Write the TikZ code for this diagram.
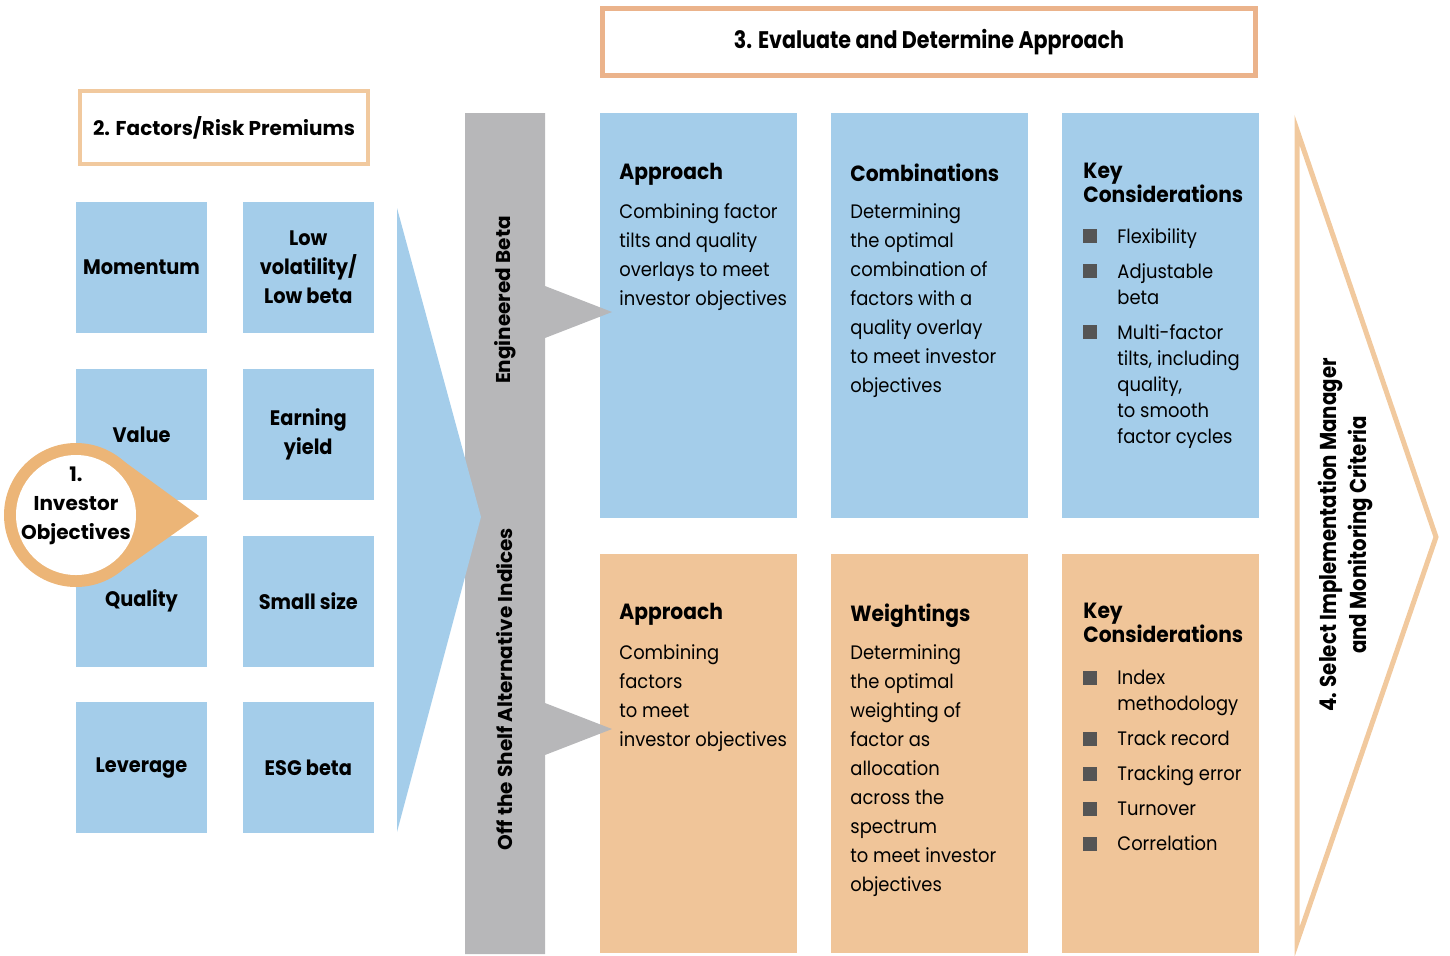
\documentclass[tikz,border=0pt]{standalone}
\usepackage{fontspec}
\setmainfont{Poppins}
\newfontfamily\panelfont[FakeStretch=0.92]{Poppins}
\newfontfamily\condfont[FakeStretch=0.86]{Poppins}
\usetikzlibrary{positioning}
\definecolor{tileblue}{HTML}{A4CDEA}
\definecolor{panelorange}{HTML}{F0C599}
\definecolor{peachline}{HTML}{EBB38B}
\definecolor{peachlight}{HTML}{F1C99E}
\definecolor{ringorange}{HTML}{ECB577}
\definecolor{bargray}{HTML}{B7B7B9}
\definecolor{bulletgray}{HTML}{555555}
\newcommand\keybullet{\makebox[17pt][l]{\textcolor{bulletgray}{\rule[-0.1pt]{7pt}{7pt}}}}
\newcommand\keyindent{\hspace*{17pt}}
\begin{document}
\begin{tikzpicture}[x=0.5pt,y=-0.5pt,
		tile/.style={fill=tileblue, minimum width=65.5pt, minimum height=65.5pt, inner sep=0pt,
				align=center, font=\panelfont\bfseries\fontsize{10.5}{14.5}\selectfont},
		framebox/.style={draw, line width=2.5pt, fill=white, inner sep=0pt},
		panel/.style={minimum width=98.5pt, inner sep=0pt, anchor=north west},
		head/.style={anchor=north west, inner sep=0pt, align=left, font=\panelfont\bfseries\fontsize{11}{12}\selectfont},
		body/.style={anchor=north west, inner sep=0pt, align=left, font=\panelfont\fontsize{9.75}{14.5}\selectfont},
		keys/.style={body, font=\panelfont\fontsize{9.75}{13}\selectfont},
		sidetext/.style={rotate=90, inner sep=0pt, align=center, font=\bfseries\fontsize{10}{15}\selectfont}]
	\useasboundingbox (0,0) rectangle (1450,955);

	% 2. factors
	\node[framebox, draw=peachlight, line width=2pt, minimum width=144pt, minimum height=36.5pt,
		font=\bfseries\fontsize{10}{12}\selectfont] (factors) at (224,127.5) {2. Factors/Risk Premiums};
	\node[tile] (momentum) at (141.5,267.5) {Momentum};
	\node[tile, right=17.5pt of momentum] (lowvol) {Low\\volatility/\\Low beta};
	\node[tile, below=17.5pt of momentum] (value) {Value};
	\node[tile, right=17.5pt of value] (earning) {Earning\\yield};
	\node[tile, below=17.5pt of value] (quality) {Quality};
	\node[tile, right=17.5pt of quality] (small) {Small size};
	\node[tile, below=17.5pt of quality] (leverage) {Leverage};
	\node[tile, right=17.5pt of leverage] (esg) {ESG beta};

	% 1. investor objectives
	\fill[ringorange] (76,515) circle (36pt);
	\fill[ringorange] (199,516) -- (118,457) -- (76,515) -- (118,573) -- cycle;
	\node[circle, fill=white, minimum size=60pt, inner sep=0pt] (objectivesring) at (76,515) {};
	\node[align=center, inner sep=0pt, font=\bfseries\fontsize{10}{14.5}\selectfont] (objectives)
		at (76,506) {1.\\Investor\\Objectives};

	% 3. evaluate
	\node[framebox, draw=peachline, minimum width=326.5pt, minimum height=33.5pt,
		font=\condfont\bfseries\fontsize{12}{13}\selectfont] (evaluate) at (929,42) {3. Evaluate and Determine Approach};
	\node[panel, fill=tileblue, minimum height=202.5pt] (approachtop) at (600,113) {};
	\node[panel, fill=tileblue, minimum height=202.5pt, right=16.5pt of approachtop] (combinations) {};
	\node[panel, fill=tileblue, minimum height=202.5pt, right=16.5pt of combinations] (keytop) {};
	\node[panel, fill=panelorange, minimum height=199.5pt] (approachbot) at (600,554) {};
	\node[panel, fill=panelorange, minimum height=199.5pt, right=16.5pt of approachbot] (weightings) {};
	\node[panel, fill=panelorange, minimum height=199.5pt, right=16.5pt of weightings] (keybot) {};

	\node[head] (approachtophead) at (619,163) {Approach};
	\node[body] (approachtoptext) at (619,203) {Combining factor\\tilts and quality\\overlays to meet\\investor objectives};
	\node[head] (combinationshead) at (850,163) {Combinations};
	\node[body] (combinationstext) at (850,203) {Determining\\the optimal\\combination of\\factors with a\\quality overlay\\to meet investor\\objectives};
	\node[head] (keytophead) at (1083,163) {Key\\Considerations};
	\node[keys] (keytoptext) at (1083,228) {\keybullet Flexibility\\[4.5pt]
		\keybullet Adjustable\\\keyindent beta\\[4.5pt]
		\keybullet Multi-factor\\\keyindent tilts, including\\\keyindent quality,\\\keyindent to smooth\\\keyindent factor cycles};

	\node[head] (approachbothead) at (619,603) {Approach};
	\node[body] (approachbottext) at (619,644) {Combining\\factors\\to meet\\investor objectives};
	\node[head] (weightingshead) at (850,603) {Weightings};
	\node[body] (weightingstext) at (850,644) {Determining\\the optimal\\weighting of\\factor as\\allocation\\across the\\spectrum\\to meet investor\\objectives};
	\node[head] (keybothead) at (1083,603) {Key\\Considerations};
	\node[keys] (keybottext) at (1083,670) {\keybullet Index\\\keyindent methodology\\[4.5pt]
		\keybullet Track record\\[4.5pt]
		\keybullet Tracking error\\[4.5pt]
		\keybullet Turnover\\[4.5pt]
		\keybullet Correlation};

	% gray bar with two notches
	\fill[bargray] (465,113) -- (545,113) -- (545,286) -- (612,312) -- (545,338) -- (545,703)
		-- (612,729) -- (545,755) -- (545,954) -- (465,954) -- cycle;
	\node[sidetext] (engineered) at (505,300) {Engineered Beta};
	\node[sidetext] (offshelf) at (505,689) {Off the Shelf Alternative Indices};

	% big blue arrow
	\fill[tileblue] (397,208) -- (481,517) -- (397,832) -- cycle;

	% 4. implementation
	\draw[peachlight, line width=2.5pt, line join=miter] (1297,130) -- (1436,537) -- (1297,942) -- cycle;
	\node[sidetext, font=\condfont\bfseries\fontsize{11.5}{15}\selectfont] (implementation) at (1345,535)
		{4. Select Implementation Manager\\and Monitoring Criteria};
\end{tikzpicture}
\end{document}
